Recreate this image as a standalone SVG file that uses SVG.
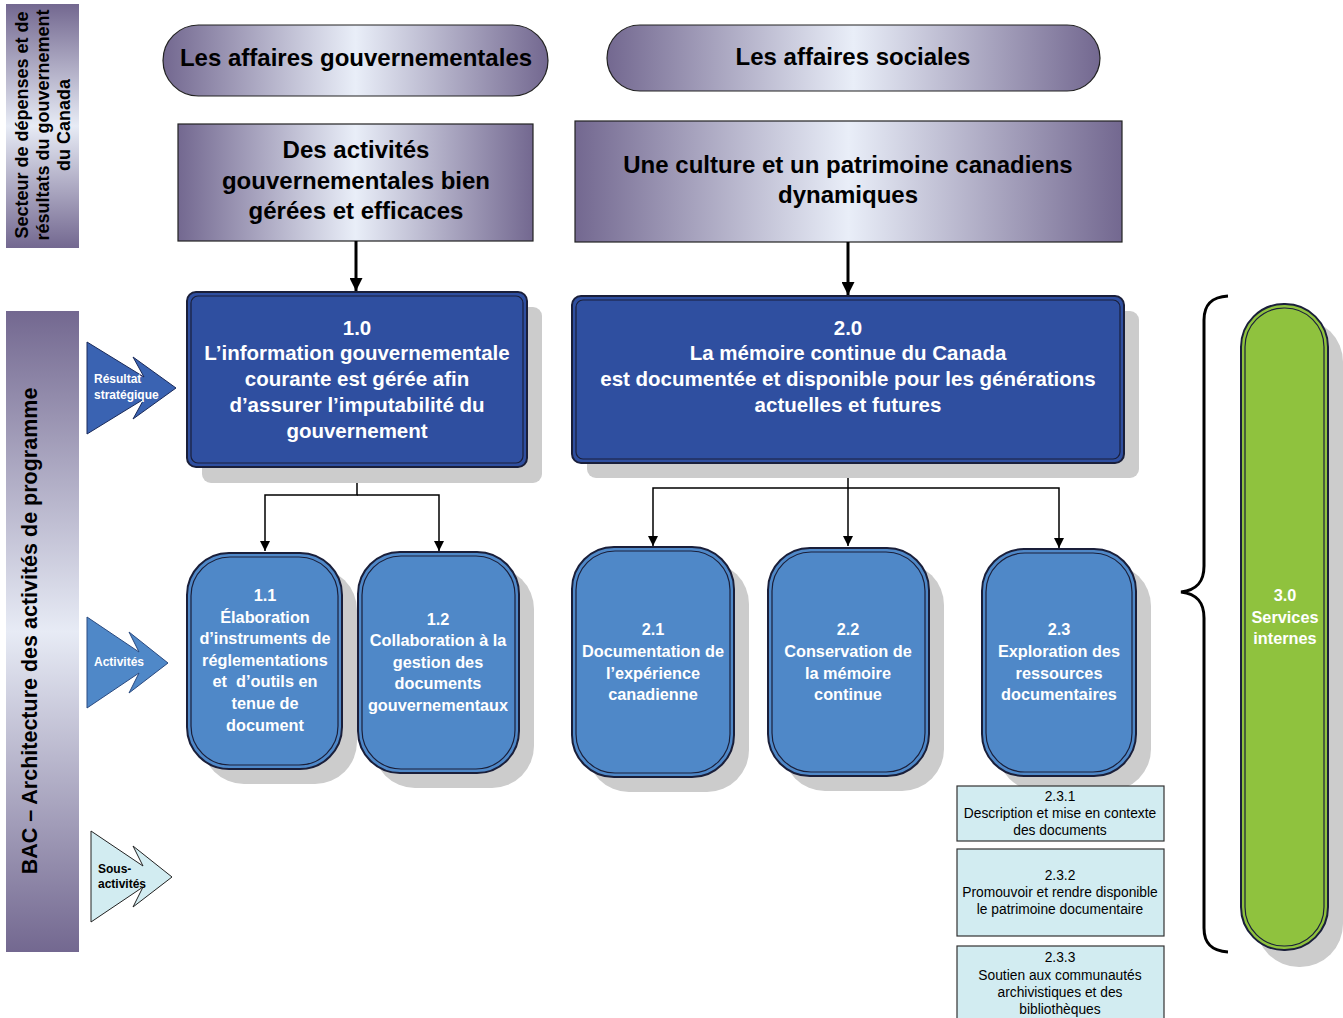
<svg xmlns="http://www.w3.org/2000/svg" width="1343" height="1018" viewBox="0 0 1343 1018">
<defs>
<linearGradient id="hg" x1="0" y1="0" x2="1" y2="0">
<stop offset="0" stop-color="#736890"/><stop offset="0.5" stop-color="#e9eef8"/><stop offset="1" stop-color="#736890"/>
</linearGradient>
<linearGradient id="vg" x1="0" y1="0" x2="0" y2="1">
<stop offset="0" stop-color="#736890"/><stop offset="0.5" stop-color="#e7ebf5"/><stop offset="1" stop-color="#736890"/>
</linearGradient>
<marker id="ah" viewBox="0 0 10 10" refX="10" refY="5" markerWidth="10" markerHeight="10" markerUnits="userSpaceOnUse" orient="auto">
<path d="M0,0 L10,5 L0,10 z" fill="#000"/>
</marker>
<marker id="ahb" viewBox="0 0 10 10" refX="10" refY="5" markerWidth="13" markerHeight="13" markerUnits="userSpaceOnUse" orient="auto">
<path d="M0,0 L10,5 L0,10 z" fill="#000"/>
</marker>
</defs>
<style>
text{font-family:"Liberation Sans",Arial,sans-serif;text-anchor:middle}
.h{font-size:24px;font-weight:bold;fill:#000}
.sr{font-size:20.5px;font-weight:bold;fill:#fff}
.act{font-size:16.3px;font-weight:bold;fill:#fff}
.sub{font-size:13.8px;fill:#000}
.lbl{font-size:12px;font-weight:bold;text-anchor:start}
.side{font-weight:bold;fill:#000}
.shadow{fill:#cccccc}
.o{stroke:#1a1f3a;stroke-width:2}
.i{fill:none;stroke:#1a1f3a;stroke-width:1.2}
.sr-fill{fill:#2f4fa0}
.act-fill{fill:#4f88c8}
.subbox{fill:#d2ecf1;stroke:#333;stroke-width:1.2}
.conn{fill:none;stroke:#000;stroke-width:1.5}
.connb{fill:none;stroke:#000;stroke-width:3}
</style>

<g id="sidebar-top">
<rect x="6" y="4" width="73" height="244" fill="url(#vg)"/>
<text class="side" font-size="18" transform="translate(28,125) rotate(-90)"><tspan x="0" y="0">Secteur de dépenses et de</tspan></text>
<text class="side" font-size="18" transform="translate(49,125) rotate(-90)"><tspan x="0" y="0">résultats du gouvernement</tspan></text>
<text class="side" font-size="18" transform="translate(70,125) rotate(-90)"><tspan x="0" y="0">du Canada</tspan></text>
</g>

<g id="sidebar-bac">
<rect x="6" y="311" width="73" height="641" fill="url(#vg)"/>
<text class="side" font-size="21.5" transform="translate(37,631) rotate(-90)">BAC – Architecture des activités de programme</text>
</g>

<g id="pill-gouv">
<rect x="163" y="25" width="385" height="71" rx="35.5" fill="url(#hg)" stroke="#222" stroke-width="1.2"/>
<text class="h" x="356" y="65.5">Les affaires gouvernementales</text>
</g>
<g id="pill-soc">
<rect x="607" y="25" width="493" height="66" rx="33" fill="url(#hg)" stroke="#222" stroke-width="1.2"/>
<text class="h" x="853" y="64.5">Les affaires sociales</text>
</g>

<g id="box-activites-gouv">
<rect x="178" y="124" width="355" height="117" fill="url(#hg)" stroke="#222" stroke-width="1.2"/>
<text class="h" x="356" y="158">Des activités</text>
<text class="h" x="356" y="189">gouvernementales bien</text>
<text class="h" x="356" y="219">gérées et efficaces</text>
</g>
<g id="box-culture">
<rect x="575" y="121" width="547" height="121" fill="url(#hg)" stroke="#222" stroke-width="1.2"/>
<text class="h" x="848" y="173">Une culture et un patrimoine canadiens</text>
<text class="h" x="848" y="203">dynamiques</text>
</g>

<g id="arrow-resultat">
<path d="M87,342 L144,377 L133,357 L176,388 L133,419 L144,399 L87,434 Z" fill="#3a63b2" stroke="#1a2a5a" stroke-width="1"/>
<text class="lbl" x="94" y="383" fill="#fff">Résultat</text>
<text class="lbl" x="94" y="399" fill="#fff">stratégique</text>
</g>
<g id="arrow-activites">
<path d="M87,617 L139,652 L129,632 L168,663 L129,693 L139,673 L87,708 Z" fill="#4f88c8" stroke="#2a4a80" stroke-width="1"/>
<text class="lbl" x="94" y="666" fill="#fff">Activités</text>
</g>
<g id="arrow-sous">
<path d="M91,831 L143,866 L133,846 L172,877 L133,907 L143,887 L91,922 Z" fill="#d2ecf1" stroke="#222" stroke-width="1"/>
<text class="lbl" x="98" y="873" fill="#000">Sous-</text>
<text class="lbl" x="98" y="888" fill="#000">activités</text>
</g>

<g id="connectors">
<path class="connb" d="M356,241 L356,291" marker-end="url(#ahb)"/>
<path class="connb" d="M848,242 L848,295" marker-end="url(#ahb)"/>
<path class="conn" d="M357,467 L357,495 L265,495 L265,551" marker-end="url(#ah)"/>
<path class="conn" d="M357,495 L439,495 L439,551" marker-end="url(#ah)"/>
<path class="conn" d="M848,463 L848,546" marker-end="url(#ah)"/>
<path class="conn" d="M848,488 L653,488 L653,546" marker-end="url(#ah)"/>
<path class="conn" d="M848,488 L1059,488 L1059,548" marker-end="url(#ah)"/>
<path d="M1228,296 C1212,297 1204,304 1204,320 L1204,566 C1204,582 1197,590 1181,592 C1197,594 1204,602 1204,618 L1204,928 C1204,944 1212,951 1228,952" fill="none" stroke="#000" stroke-width="3"/>
</g>

<g id="node-1-0">
<rect class="shadow" x="202" y="307" width="340" height="176" rx="9"/>
<rect class="sr-fill o" x="187" y="292" width="340" height="175" rx="9"/>
<rect class="i" x="191" y="296" width="332" height="167" rx="7"/>
<text class="sr" x="357" y="335">1.0</text>
<text class="sr" x="357" y="360">L’information gouvernementale</text>
<text class="sr" x="357" y="386">courante est gérée afin</text>
<text class="sr" x="357" y="412">d’assurer l’imputabilité du</text>
<text class="sr" x="357" y="438">gouvernement</text>
</g>

<g id="node-2-0">
<rect class="shadow" x="587" y="311" width="552" height="167" rx="9"/>
<rect class="sr-fill o" x="572" y="296" width="552" height="167" rx="9"/>
<rect class="i" x="576" y="300" width="544" height="159" rx="7"/>
<text class="sr" x="848" y="335">2.0</text>
<text class="sr" x="848" y="360">La mémoire continue du Canada</text>
<text class="sr" x="848" y="386">est documentée et disponible pour les générations</text>
<text class="sr" x="848" y="412">actuelles et futures</text>
</g>

<g id="node-1-1">
<rect class="shadow" x="202" y="568" width="155" height="216" rx="42"/>
<rect class="act-fill o" x="187" y="553" width="155" height="216" rx="42"/>
<rect class="i" x="191" y="557" width="147" height="208" rx="39"/>
<text class="act" x="265" y="601">1.1</text>
<text class="act" x="265" y="623">Élaboration</text>
<text class="act" x="265" y="644">d’instruments de</text>
<text class="act" x="265" y="666">réglementations</text>
<text class="act" x="265" y="687" xml:space="preserve">et  d’outils en</text>
<text class="act" x="265" y="709">tenue de</text>
<text class="act" x="265" y="731">document</text>
</g>

<g id="node-1-2">
<rect class="shadow" x="373" y="567" width="161" height="221" rx="42"/>
<rect class="act-fill o" x="358" y="552" width="161" height="221" rx="42"/>
<rect class="i" x="362" y="556" width="153" height="213" rx="39"/>
<text class="act" x="438" y="625">1.2</text>
<text class="act" x="438" y="646">Collaboration à la</text>
<text class="act" x="438" y="668">gestion des</text>
<text class="act" x="438" y="689">documents</text>
<text class="act" x="438" y="711">gouvernementaux</text>
</g>

<g id="node-2-1">
<rect class="shadow" x="587" y="562" width="162" height="230" rx="42"/>
<rect class="act-fill o" x="572" y="547" width="162" height="230" rx="42"/>
<rect class="i" x="576" y="551" width="154" height="222" rx="39"/>
<text class="act" x="653" y="635">2.1</text>
<text class="act" x="653" y="657">Documentation de</text>
<text class="act" x="653" y="679">l’expérience</text>
<text class="act" x="653" y="700">canadienne</text>
</g>

<g id="node-2-2">
<rect class="shadow" x="783" y="563" width="161" height="228" rx="42"/>
<rect class="act-fill o" x="768" y="548" width="161" height="228" rx="42"/>
<rect class="i" x="772" y="552" width="153" height="220" rx="39"/>
<text class="act" x="848" y="635">2.2</text>
<text class="act" x="848" y="657">Conservation de</text>
<text class="act" x="848" y="679">la mémoire</text>
<text class="act" x="848" y="700">continue</text>
</g>

<g id="node-2-3">
<rect class="shadow" x="997" y="564" width="154" height="227" rx="42"/>
<rect class="act-fill o" x="982" y="549" width="154" height="227" rx="42"/>
<rect class="i" x="986" y="553" width="146" height="219" rx="39"/>
<text class="act" x="1059" y="635">2.3</text>
<text class="act" x="1059" y="657">Exploration des</text>
<text class="act" x="1059" y="679">ressources</text>
<text class="act" x="1059" y="700">documentaires</text>
</g>

<g id="node-3-0">
<rect class="shadow" x="1256" y="319" width="87" height="648" rx="43"/>
<rect class="o" x="1241" y="304" width="87" height="646" rx="43" fill="#8fc23e"/>
<rect class="i" x="1245" y="308" width="79" height="638" rx="39"/>
<text class="act" x="1285" y="601">3.0</text>
<text class="act" x="1285" y="623">Services</text>
<text class="act" x="1285" y="644">internes</text>
</g>

<g id="node-2-3-1">
<rect class="subbox" x="957" y="786" width="207" height="55"/>
<text class="sub" x="1060" y="801">2.3.1</text>
<text class="sub" x="1060" y="818">Description et mise en contexte</text>
<text class="sub" x="1060" y="835">des documents</text>
</g>
<g id="node-2-3-2">
<rect class="subbox" x="957" y="849" width="207" height="87"/>
<text class="sub" x="1060" y="880">2.3.2</text>
<text class="sub" x="1060" y="897">Promouvoir et rendre disponible</text>
<text class="sub" x="1060" y="914">le patrimoine documentaire</text>
</g>
<g id="node-2-3-3">
<rect class="subbox" x="957" y="946" width="207" height="80"/>
<text class="sub" x="1060" y="962">2.3.3</text>
<text class="sub" x="1060" y="980">Soutien aux communautés</text>
<text class="sub" x="1060" y="997">archivistiques et des</text>
<text class="sub" x="1060" y="1014">bibliothèques</text>
</g>
</svg>
